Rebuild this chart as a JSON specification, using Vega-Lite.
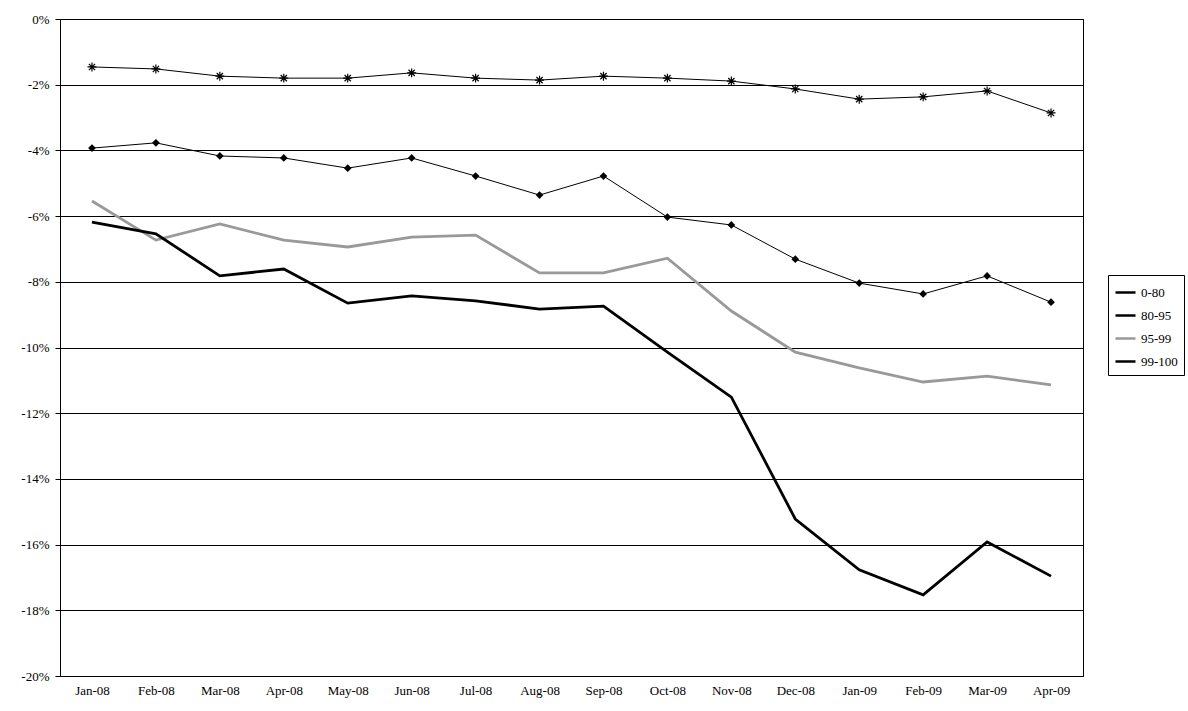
{
"$schema":"https://vega.github.io/schema/vega-lite/v6.json",
"width":1023,"height":657,
"padding":{"left":60,"top":19,"right":105,"bottom":35},
"autosize":{"type":"none"},
"background":"white",
"config":{"view":{"stroke":"black","strokeWidth":1},"font":"'Liberation Serif', 'DejaVu Serif', serif","axis":{"labelFont":"'Liberation Serif', 'DejaVu Serif', serif","labelFontSize":13,"labelFontWeight":"normal","labelColor":"black","domainColor":"black","tickColor":"black"}},
"data":{"values":[
{"m":"Jan-08","s":"0-80","v":-1.46},{"m":"Feb-08","s":"0-80","v":-1.52},{"m":"Mar-08","s":"0-80","v":-1.74},{"m":"Apr-08","s":"0-80","v":-1.8},{"m":"May-08","s":"0-80","v":-1.8},{"m":"Jun-08","s":"0-80","v":-1.64},{"m":"Jul-08","s":"0-80","v":-1.8},{"m":"Aug-08","s":"0-80","v":-1.86},{"m":"Sep-08","s":"0-80","v":-1.74},{"m":"Oct-08","s":"0-80","v":-1.8},{"m":"Nov-08","s":"0-80","v":-1.89},{"m":"Dec-08","s":"0-80","v":-2.13},{"m":"Jan-09","s":"0-80","v":-2.44},{"m":"Feb-09","s":"0-80","v":-2.37},{"m":"Mar-09","s":"0-80","v":-2.19},{"m":"Apr-09","s":"0-80","v":-2.86},
{"m":"Jan-08","s":"80-95","v":-3.93},{"m":"Feb-08","s":"80-95","v":-3.77},{"m":"Mar-08","s":"80-95","v":-4.17},{"m":"Apr-08","s":"80-95","v":-4.23},{"m":"May-08","s":"80-95","v":-4.54},{"m":"Jun-08","s":"80-95","v":-4.23},{"m":"Jul-08","s":"80-95","v":-4.78},{"m":"Aug-08","s":"80-95","v":-5.36},{"m":"Sep-08","s":"80-95","v":-4.78},{"m":"Oct-08","s":"80-95","v":-6.03},{"m":"Nov-08","s":"80-95","v":-6.27},{"m":"Dec-08","s":"80-95","v":-7.31},{"m":"Jan-09","s":"80-95","v":-8.04},{"m":"Feb-09","s":"80-95","v":-8.37},{"m":"Mar-09","s":"80-95","v":-7.82},{"m":"Apr-09","s":"80-95","v":-8.62},
{"m":"Jan-08","s":"95-99","v":-5.54},{"m":"Feb-08","s":"95-99","v":-6.73},{"m":"Mar-08","s":"95-99","v":-6.24},{"m":"Apr-08","s":"95-99","v":-6.73},{"m":"May-08","s":"95-99","v":-6.94},{"m":"Jun-08","s":"95-99","v":-6.64},{"m":"Jul-08","s":"95-99","v":-6.58},{"m":"Aug-08","s":"95-99","v":-7.73},{"m":"Sep-08","s":"95-99","v":-7.73},{"m":"Oct-08","s":"95-99","v":-7.28},{"m":"Nov-08","s":"95-99","v":-8.89},{"m":"Dec-08","s":"95-99","v":-10.14},{"m":"Jan-09","s":"95-99","v":-10.62},{"m":"Feb-09","s":"95-99","v":-11.05},{"m":"Mar-09","s":"95-99","v":-10.87},{"m":"Apr-09","s":"95-99","v":-11.14},
{"m":"Jan-08","s":"99-100","v":-6.18},{"m":"Feb-08","s":"99-100","v":-6.54},{"m":"Mar-08","s":"99-100","v":-7.82},{"m":"Apr-08","s":"99-100","v":-7.61},{"m":"May-08","s":"99-100","v":-8.65},{"m":"Jun-08","s":"99-100","v":-8.43},{"m":"Jul-08","s":"99-100","v":-8.58},{"m":"Aug-08","s":"99-100","v":-8.83},{"m":"Sep-08","s":"99-100","v":-8.74},{"m":"Oct-08","s":"99-100","v":-10.14},{"m":"Nov-08","s":"99-100","v":-11.51},{"m":"Dec-08","s":"99-100","v":-15.22},{"m":"Jan-09","s":"99-100","v":-16.77},{"m":"Feb-09","s":"99-100","v":-17.53},{"m":"Mar-09","s":"99-100","v":-15.92},{"m":"Apr-09","s":"99-100","v":-16.96}
]},
"encoding":{
"x":{"field":"m","type":"ordinal","sort":null,"scale":{"type":"point","padding":0.5},"axis":{"title":null,"labelAngle":0,"ticks":false,"domain":true,"labelPadding":8}},
"y":{"field":"v","type":"quantitative","scale":{"domain":[-20,0],"nice":false},"axis":{"title":null,"values":[0,-2,-4,-6,-8,-10,-12,-14,-16,-18,-20],"labelExpr":"datum.value + '%'","grid":true,"gridColor":"black","gridWidth":1,"tickSize":5,"labelPadding":6}},
"color":{"field":"s","type":"nominal","scale":{"domain":["0-80","80-95","95-99","99-100"],"range":["black","black","#999999","black"]},
  "legend":{"title":null,"orient":"none","legendX":1048,"legendY":256,"strokeColor":"black","fillColor":"white","padding":6,"symbolType":"stroke","symbolSize":400,"symbolStrokeWidth":2.5,"labelFont":"'Liberation Serif', 'DejaVu Serif', serif","labelFontSize":13,"labelColor":"black","rowPadding":4}}
},
"layer":[
{"mark":{"type":"line","strokeWidth":1},"transform":[{"filter":"datum.s=='0-80' || datum.s=='80-95'"}]},
{"mark":{"type":"line","strokeWidth":2.8},"transform":[{"filter":"datum.s=='95-99' || datum.s=='99-100'"}]},
{"mark":{"type":"point","filled":false,"size":80,"strokeWidth":1.2,"shape":"M-1,0L1,0M0,-1L0,1M-0.7,-0.7L0.7,0.7M-0.7,0.7L0.7,-0.7","opacity":1},
 "transform":[{"filter":"datum.s=='0-80'"}]},
{"mark":{"type":"point","filled":true,"size":60,"shape":"diamond","opacity":1},
 "transform":[{"filter":"datum.s=='80-95'"}]}
]
}
